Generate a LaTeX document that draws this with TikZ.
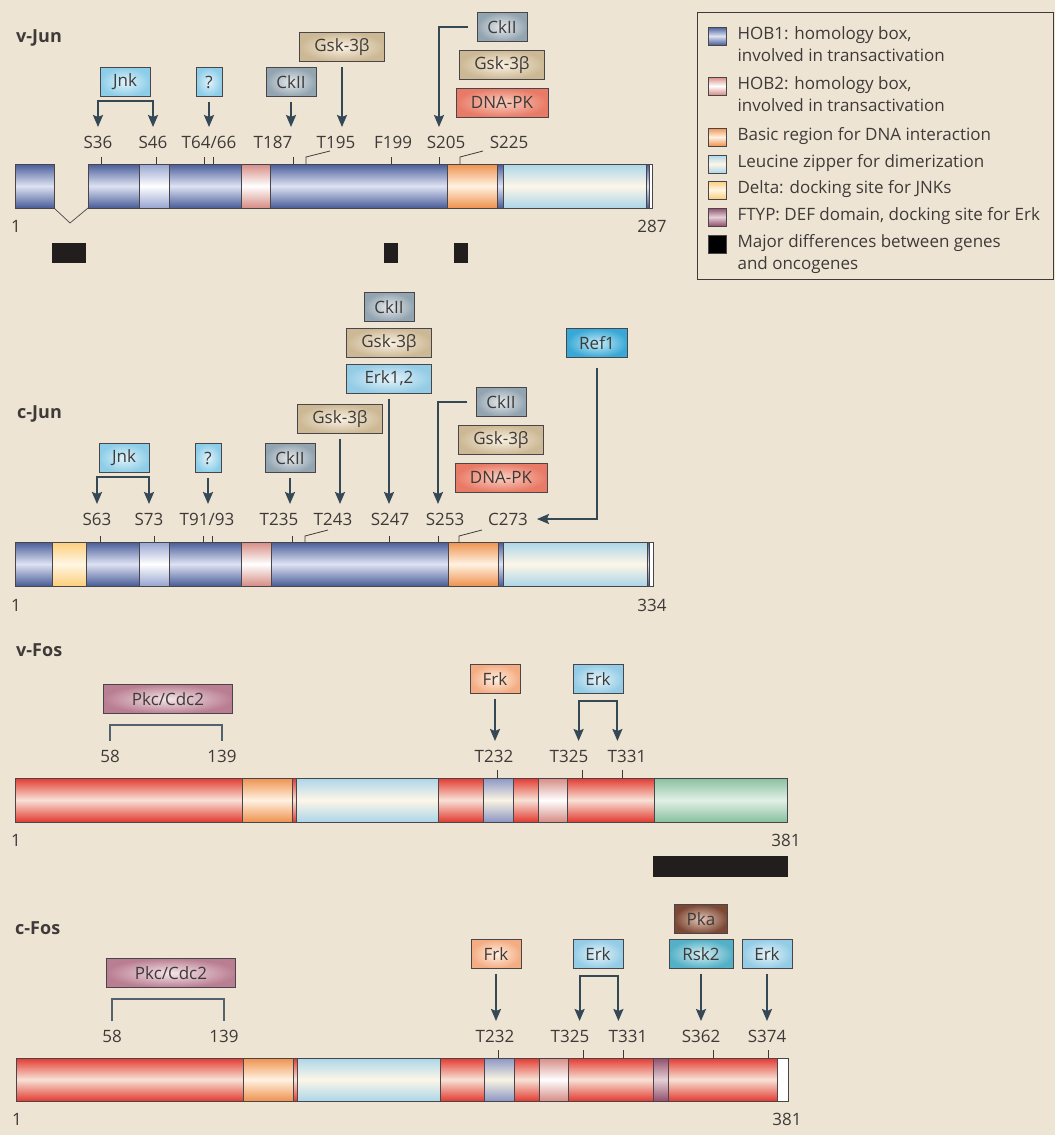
\documentclass[tikz,border=0pt]{standalone}
\usepackage{fontspec}
\setmainfont{Open Sans}
\usepackage{tikz}
\usetikzlibrary{arrows.meta,positioning,calc}
\definecolor{paper}{RGB}{238,228,212}
\definecolor{ink}{RGB}{62,58,56}
\definecolor{arrowc}{RGB}{52,72,86}
\definecolor{edge}{RGB}{72,70,74}
\definecolor{blackbar}{RGB}{34,30,30}
% domain colours (edge / centre)
\definecolor{hobAdk}{RGB}{72,92,152}
\definecolor{hobAlt}{RGB}{222,226,242}
\definecolor{hobPdk}{RGB}{150,164,208}
\definecolor{hobFdk}{RGB}{140,150,196}
\definecolor{hobFlt}{RGB}{250,244,226}
\definecolor{hobBdk}{RGB}{214,140,132}
\definecolor{basicdk}{RGB}{238,146,78}
\definecolor{basiclt}{RGB}{255,242,226}
\definecolor{zipdk}{RGB}{172,214,232}
\definecolor{ziplt}{RGB}{253,246,232}
\definecolor{deltadk}{RGB}{252,206,122}
\definecolor{deltalt}{RGB}{255,246,228}
\definecolor{ftypdk}{RGB}{146,78,108}
\definecolor{ftyplt}{RGB}{228,208,214}
\definecolor{fosdk}{RGB}{226,58,48}
\definecolor{foslt}{RGB}{248,226,214}
\definecolor{greendk}{RGB}{136,192,158}
\definecolor{greenlt}{RGB}{226,240,230}
% kinase colours
\definecolor{jnkout}{RGB}{140,205,232}\definecolor{jnkin}{RGB}{226,243,250}
\definecolor{ckout}{RGB}{146,164,176}\definecolor{ckin}{RGB}{230,234,236}
\definecolor{gskout}{RGB}{204,184,148}\definecolor{gskin}{RGB}{250,242,228}
\definecolor{dnaout}{RGB}{232,122,102}\definecolor{dnain}{RGB}{250,208,194}
\definecolor{erkout}{RGB}{148,204,230}\definecolor{erkin}{RGB}{230,244,250}
\definecolor{refout}{RGB}{56,168,214}\definecolor{refin}{RGB}{198,236,248}
\definecolor{frkout}{RGB}{244,172,130}\definecolor{frkin}{RGB}{255,240,226}
\definecolor{pkaout}{RGB}{124,72,52}\definecolor{pkain}{RGB}{228,198,184}
\definecolor{rskout}{RGB}{84,176,198}\definecolor{rskin}{RGB}{214,238,244}
\definecolor{pkcout}{RGB}{186,126,146}\definecolor{pkcin}{RGB}{244,230,234}
\newcommand\sitefont{\fontsize{17}{22}\selectfont}
\newcommand\titlefont{\fontsize{18}{22}\selectfont\bfseries}

\begin{document}
\begin{tikzpicture}[x=1pt,y=-1pt,
node distance=8pt,
txt/.style={text=ink,font=\sitefont},
site/.style={txt,inner sep=0pt,outer sep=9pt,text height=12pt,text depth=0pt,anchor=base},
num/.style={txt,inner sep=0pt,anchor=base},
ttl/.style={text=ink,font=\titlefont,inner sep=0pt,anchor=base west},
kbox/.style={draw=edge,line width=0.8pt,txt,minimum height=29pt,minimum width=50pt,inner xsep=4pt,inner ysep=0pt},
jnkbox/.style={kbox,inner color=jnkin,outer color=jnkout},
ckbox/.style={kbox,inner color=ckin,outer color=ckout},
gskbox/.style={kbox,minimum width=85pt,inner color=gskin,outer color=gskout},
dnabox/.style={kbox,minimum width=92pt,inner color=dnain,outer color=dnaout},
erkbox/.style={kbox,inner color=erkin,outer color=erkout},
refbox/.style={kbox,minimum width=61pt,inner color=refin,outer color=refout},
frkbox/.style={kbox,inner color=frkin,outer color=frkout},
pkabox/.style={kbox,minimum width=53pt,inner color=pkain,outer color=pkaout},
rskbox/.style={kbox,minimum width=64pt,inner color=rskin,outer color=rskout},
pkcbox/.style={kbox,minimum width=129pt,inner color=pkcin,outer color=pkcout},
seg/.style={draw=edge,line width=0.7pt},
hobA/.style={seg,top color=hobAdk,bottom color=hobAdk,middle color=hobAlt},
hobP/.style={seg,top color=hobPdk,bottom color=hobPdk,middle color=white},
hobF/.style={seg,top color=hobFdk,bottom color=hobFdk,middle color=hobFlt},
hobB/.style={seg,top color=hobBdk,bottom color=hobBdk,middle color=white},
basic/.style={seg,top color=basicdk,bottom color=basicdk,middle color=basiclt},
zip/.style={seg,top color=zipdk,bottom color=zipdk,middle color=ziplt},
delta/.style={seg,top color=deltadk,bottom color=deltadk,middle color=deltalt},
ftyp/.style={seg,top color=ftypdk,bottom color=ftypdk,middle color=ftyplt},
fos/.style={seg,top color=fosdk,bottom color=fosdk,middle color=foslt},
green/.style={seg,top color=greendk,bottom color=greendk,middle color=greenlt},
blank/.style={seg,fill=white},
tick/.style={draw=ink,line width=0.8pt},
arr/.style={draw=arrowc,line width=2pt,shorten <=5pt,-{Stealth[length=12pt,width=10pt,inset=2pt]}},
arrtwo/.style={draw=arrowc,line width=2pt,{Stealth[length=12pt,width=10pt,inset=2pt]}-{Stealth[length=12pt,width=10pt,inset=2pt]}},
brk/.style={draw=arrowc!85,line width=2pt},
gone/.style={fill=blackbar},
swatch/.style={minimum size=18pt,inner sep=0pt},
legtxt/.style={txt,align=left,inner sep=0pt,anchor=north west}
]
\fill[paper] (0,0) rectangle (1055,1135);
\useasboundingbox (0,0) rectangle (1055,1135);

% ---------- v-Jun ----------
\node[ttl] (vjun) at (16,42) {v-Jun};
\foreach \a/\b/\s in {15/54/hobA,88/139/hobA,139/169/hobP,169/241/hobA,241/270/hobB,270/447/hobA,447/497/basic,497/503/hobA,503/646/zip,646/649/hobA,649/652/blank}
  \draw[\s] (\a,164) rectangle (\b,208);
\draw[seg] (54,208) -- (70,223) -- (88,208);
\foreach \x in {101,156,204,213,293,391,439}
  \draw[tick] (\x,164) -- (\x,157);
\draw[tick] (306,164) -- (306,157) -- (330,151);
\draw[tick] (460,164) -- (460,157) -- (483,151);
\node[num] (vjunA) at (16,232) {1};
\node[num] (vjunZ) at (652,232) {287};
\foreach \a/\b in {52/86,384/398,454/468}
  \fill[gone] (\a,243) rectangle (\b,263);
\node[site] (s36) at (98,148) {S36};
\node[site] (s46) at (153,148) {S46};
\node[site] (t64) at (209,148) {T64/66};
\node[site] (t187) at (273,148) {T187};
\node[site] (t195) at (336,148) {T195};
\node[site] (f199) at (393,148) {F199};
\node[site] (s205) at (446,148) {S205};
\node[site] (s225) at (509,148) {S225};
\node[jnkbox] (jnkA) at (125,82) {Jnk};
\node[jnkbox,minimum width=26pt] (qA) at (209,82) {?};
\node[ckbox] (ckA) at (291,82) {CkII};
\node[gskbox] (gskA) at (342,47) {Gsk-3β};
\node[ckbox] (ckB) at (502,27) {CkII};
\node[gskbox,below=of ckB] (gskB) {Gsk-3β};
\node[dnabox,below=of gskB] (dnaB) {DNA-PK};
\coordinate (jnkAbr) at ([yshift=-4pt]jnkA.south);
\draw[arrtwo] (s36.north) |- (jnkAbr) -| (s46.north);
\draw[arr] (qA.south) -- (qA.south |- t64.north);
\draw[arr] (ckA.south) -- (ckA.south |- t187.north);
\draw[arr] (gskA.south) -- (gskA.south |- t195.north);
\draw[arr,shorten <=0pt] ([xshift=-9pt]ckB.west) -| ([xshift=-7pt]s205.north);

% ---------- legend ----------
\draw[draw=ink,line width=1pt] (697,12) rectangle (1053,279);
\node[swatch,hobA] (lgA) at (717,36) {};
\node[swatch,hobB] (lgB) at (717,86) {};
\node[swatch,basic] (lgC) at (717,137) {};
\node[swatch,zip] (lgD) at (717,164) {};
\node[swatch,delta] (lgE) at (717,190) {};
\node[swatch,ftyp] (lgF) at (717,217) {};
\node[swatch,seg,fill=black] (lgG) at (717,244) {};
\node[legtxt] (lgAt) at ([xshift=11pt]lgA.north east) {HOB1: homology box,\\involved in transactivation};
\node[legtxt] (lgBt) at ([xshift=11pt]lgB.north east) {HOB2: homology box,\\involved in transactivation};
\node[legtxt] (lgCt) at ([xshift=11pt]lgC.north east) {Basic region for DNA interaction};
\node[legtxt] (lgDt) at ([xshift=11pt]lgD.north east) {Leucine zipper for dimerization};
\node[legtxt] (lgEt) at ([xshift=11pt]lgE.north east) {Delta: docking site for JNKs};
\node[legtxt] (lgFt) at ([xshift=11pt]lgF.north east) {FTYP: DEF domain, docking site for Erk};
\node[legtxt] (lgGt) at ([xshift=11pt]lgG.north east) {Major differences between genes\\and oncogenes};

% ---------- c-Jun ----------
\node[ttl] (cjun) at (17,418) {c-Jun};
\foreach \a/\b/\s in {15/52/hobA,52/86/delta,86/139/hobA,139/169/hobP,169/241/hobA,241/271/hobB,271/448/hobA,448/498/basic,498/503/hobA,503/647/zip,647/649/hobA,649/653/blank}
  \draw[\s] (\a,542) rectangle (\b,586);
\foreach \x in {100,154,203,212,292,389,438}
  \draw[tick] (\x,542) -- (\x,536);
\draw[tick] (305,542) -- (305,536) -- (328,530);
\draw[tick] (459,542) -- (459,536) -- (482,530);
\node[num] (cjunA) at (16,611) {1};
\node[num] (cjunZ) at (652,611) {334};
\node[site] (s63) at (97,525) {S63};
\node[site] (s73) at (149,525) {S73};
\node[site] (t91) at (207,525) {T91/93};
\node[site] (t235) at (279,525) {T235};
\node[site] (t243) at (333,525) {T243};
\node[site] (s247) at (390,525) {S247};
\node[site] (s253) at (445,525) {S253};
\node[site] (c273) at (508,525) {C273};
\node[jnkbox] (jnkC) at (124,458) {Jnk};
\node[jnkbox,minimum width=26pt] (qC) at (208,458) {?};
\node[ckbox] (ckC) at (290,458) {CkII};
\node[gskbox] (gskC) at (340,419) {Gsk-3β};
\node[ckbox] (ckD) at (389,307) {CkII};
\node[gskbox,below=6pt of ckD] (gskD) {Gsk-3β};
\node[erkbox,minimum width=85pt,below=6pt of gskD] (erkD) {Erk1,2};
\node[ckbox] (ckE) at (501,402) {CkII};
\node[gskbox,below=of ckE] (gskE) {Gsk-3β};
\node[dnabox,below=of gskE] (dnaE) {DNA-PK};
\node[refbox] (refE) at (597,343) {Ref1};
\coordinate (jnkCbr) at ([yshift=-4pt]jnkC.south);
\draw[arrtwo] (s63.north) |- (jnkCbr) -| (s73.north);
\draw[arr] (qC.south) -- (qC.south |- t91.north);
\draw[arr] (ckC.south) -- (ckC.south |- t235.north);
\draw[arr] (gskC.south) -- (gskC.south |- t243.north);
\draw[arr] (erkD.south) -- (erkD.south |- s247.north);
\draw[arr,shorten <=0pt] ([xshift=-9pt]ckE.west) -| ([xshift=-7pt]s253.north);
\draw[arr,shorten <=10pt] (refE.south) |- (c273.east);

% ---------- v-Fos ----------
\node[ttl] (vfos) at (16,656) {v-Fos};
\foreach \a/\b/\s in {15/242/fos,242/292/basic,292/296/fos,296/438/zip,438/483/fos,483/513/hobF,513/538/fos,538/567/hobB,567/654/fos,654/787/green}
  \draw[\s] (\a,778) rectangle (\b,822);
\foreach \x in {497,582,622}
  \draw[tick] (\x,778) -- (\x,770);
\node[num] (vfosA) at (16,846) {1};
\node[num] (vfosZ) at (786,846) {381};
\fill[gone] (653,856) rectangle (788,877);
\node[site] (n58v) at (110,762) {58};
\node[site] (n139v) at (222,762) {139};
\node[site] (t232v) at (494,762) {T232};
\node[site] (t325v) at (569,762) {T325};
\node[site] (t331v) at (627,762) {T331};
\node[pkcbox] (pkcV) at (168,699) {Pkc/Cdc2};
\node[frkbox] (frkV) at (495,679) {Frk};
\node[erkbox] (erkV) at (598,679) {Erk};
\coordinate (pkcVbr) at ([yshift=-11pt]pkcV.south);
\draw[brk] (n58v.north) -- (n58v.north |- pkcVbr) -- (n139v.north |- pkcVbr) -- (n139v.north);
\draw[arr] (frkV.south) -- (frkV.south |- t232v.north);
\coordinate (erkVl) at ([xshift=6pt,yshift=-7pt]erkV.south west);
\coordinate (erkVr) at ([xshift=-6pt,yshift=-7pt]erkV.south east);
\draw[arrtwo] (erkVl |- t325v.north) -- (erkVl) -- (erkVr) -- (erkVr |- t331v.north);

% ---------- c-Fos ----------
\node[ttl] (cfos) at (15,934) {c-Fos};
\foreach \a/\b/\s in {16/243/fos,243/293/basic,293/297/fos,297/440/zip,440/484/fos,484/514/hobF,514/539/fos,539/568/hobB,568/653/fos,653/668/ftyp,668/777/fos,777/788/blank}
  \draw[\s] (\a,1058) rectangle (\b,1101);
\foreach \x in {498,583,623,713,768}
  \draw[tick] (\x,1058) -- (\x,1050);
\node[num] (cfosA) at (17,1125) {1};
\node[num] (cfosZ) at (787,1125) {381};
\node[site] (n58c) at (112,1042) {58};
\node[site] (n139c) at (224,1042) {139};
\node[site] (t232c) at (495,1042) {T232};
\node[site] (t325c) at (570,1042) {T325};
\node[site] (t331c) at (628,1042) {T331};
\node[site] (s362) at (701,1042) {S362};
\node[site] (s374) at (767,1042) {S374};
\node[pkcbox] (pkcC) at (171,973) {Pkc/Cdc2};
\node[frkbox] (frkC) at (496,954) {Frk};
\node[erkbox] (erkC) at (598,954) {Erk};
\node[rskbox] (rskC) at (701,954) {Rsk2};
\node[pkabox,above=5pt of rskC] (pkaC) {Pka};
\node[erkbox] (erkS) at (767,954) {Erk};
\coordinate (pkcCbr) at ([yshift=-11pt]pkcC.south);
\draw[brk] (n58c.north) -- (n58c.north |- pkcCbr) -- (n139c.north |- pkcCbr) -- (n139c.north);
\draw[arr] (frkC.south) -- (frkC.south |- t232c.north);
\coordinate (erkCl) at ([xshift=7pt,yshift=-7pt]erkC.south west);
\coordinate (erkCr) at ([xshift=-5pt,yshift=-7pt]erkC.south east);
\draw[arrtwo] (erkCl |- t325c.north) -- (erkCl) -- (erkCr) -- (erkCr |- t331c.north);
\draw[arr] (rskC.south) -- (rskC.south |- s362.north);
\draw[arr] (erkS.south) -- (erkS.south |- s374.north);
\end{tikzpicture}
\end{document}
